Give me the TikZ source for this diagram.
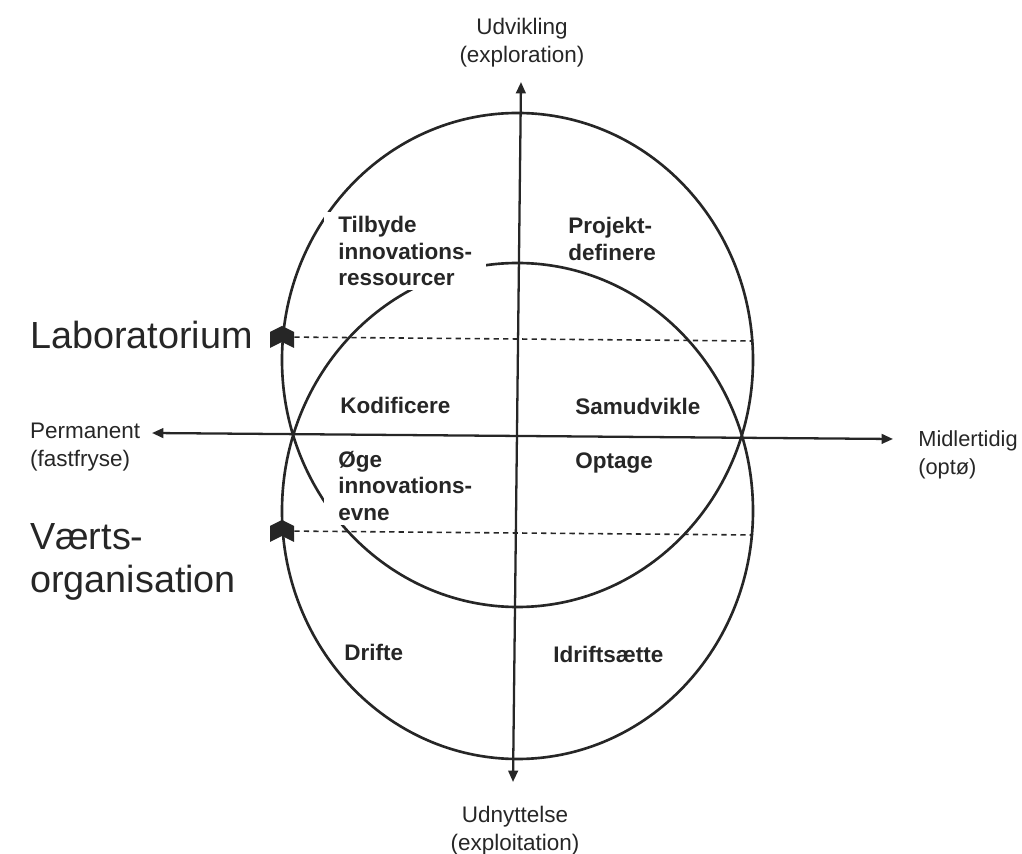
\documentclass[tikz,border=0pt]{standalone}
\usepackage{fontspec}
\setmainfont{Liberation Sans}
\usetikzlibrary{arrows.meta,positioning}
\definecolor{ink}{HTML}{262626}
\def \pu {0.02cm}

\begin{document}
\begin{tikzpicture}[x=\pu,y=-\pu,
    line/.style={draw=ink,line width=1.5pt},
    axis/.style={ink,line width=1.3pt,{Triangle[length=6.5pt,width=5.5pt]}-{Triangle[length=6.5pt,width=5.5pt]}},
    guide/.style={ink,line width=0.9pt,dash pattern=on 3pt off 2.4pt},
    tagbox/.style={inner sep=0pt,minimum width=24*\pu,minimum height=22*\pu},
    bookmark/.pic={\fill[ink] (0,-11) -- (12,-5) -- (12,11) -- (0,5) -- (-12,11) -- (-12,-5) -- cycle;},
    lbl/.style={text=ink,align=center,font=\fontsize{12.8}{15.9}\selectfont},
    big/.style={text=ink,align=left,anchor=west,font=\fontsize{21.5}{24.4}\selectfont},
    box/.style={text=ink,align=left,anchor=west,inner xsep=14*\pu,inner ysep=4*\pu,
      font=\bfseries\fontsize{12.8}{15}\selectfont},
    cover/.style={box,fill=white}]
  \useasboundingbox (0,0) rectangle (1022,854);

  \draw[line] (517.5,360) ellipse [x radius=235.5,y radius=247];
  \draw[line] (517.5,511) ellipse [x radius=235.5,y radius=248];

  \node[cover] (tilbyde) at (324,251) {Tilbyde\\innovations-\\ressourcer};
  \node[box] (projekt) at (554,239) {Projekt-\\definere};
  \node[box] (kodificere) at (326,405) {Kodificere};
  \node[box] (samudvikle) at (561,406) {Samudvikle};
  \node[cover] (oege) at (324,486) {Øge\\innovations-\\evne};
  \node[box] (optage) at (561,463) {Optage};
  \node[box] (drifte) at (330,652) {Drifte};
  \node[box] (idrift) at (539,654) {Idriftsætte};

  \node[lbl] (udvikling) at (522,43) {Udvikling\\(exploration)};
  \node[lbl] (udnyttelse) at (515,831) {Udnyttelse\\(exploitation)};
  \node[lbl,align=left,anchor=west] (permanent) at (24,447) {Permanent\\(fastfryse)};
  \node[lbl,align=left,anchor=west,inner sep=0pt,font=\fontsize{12.4}{15.9}\selectfont]
    (midlertidig) at (918,455) {Midlertidig\\(optø)};
  \node[big] (lab) at (24,335) {Laboratorium};
  \node[big] (vaert) at (24,562) {Værts-\\organisation};

  \coordinate (top) at (521,82);
  \coordinate (bottom) at (513,782);
  \coordinate (left) at (152,433);
  \coordinate (right) at (893,439);
  \coordinate (labend) at (753,341);
  \coordinate (vaertend) at (753,535);

  \draw[axis] (top) -- (bottom);
  \draw[axis] (left) -- (right);

  \node[tagbox] (labmark) at (282,337) {};
  \node[tagbox] (vaertmark) at (282,531) {};
  \pic at (labmark) {bookmark};
  \pic at (vaertmark) {bookmark};
  \draw[guide] (labmark) -- (labend);
  \draw[guide] (vaertmark) -- (vaertend);
\end{tikzpicture}
\end{document}
